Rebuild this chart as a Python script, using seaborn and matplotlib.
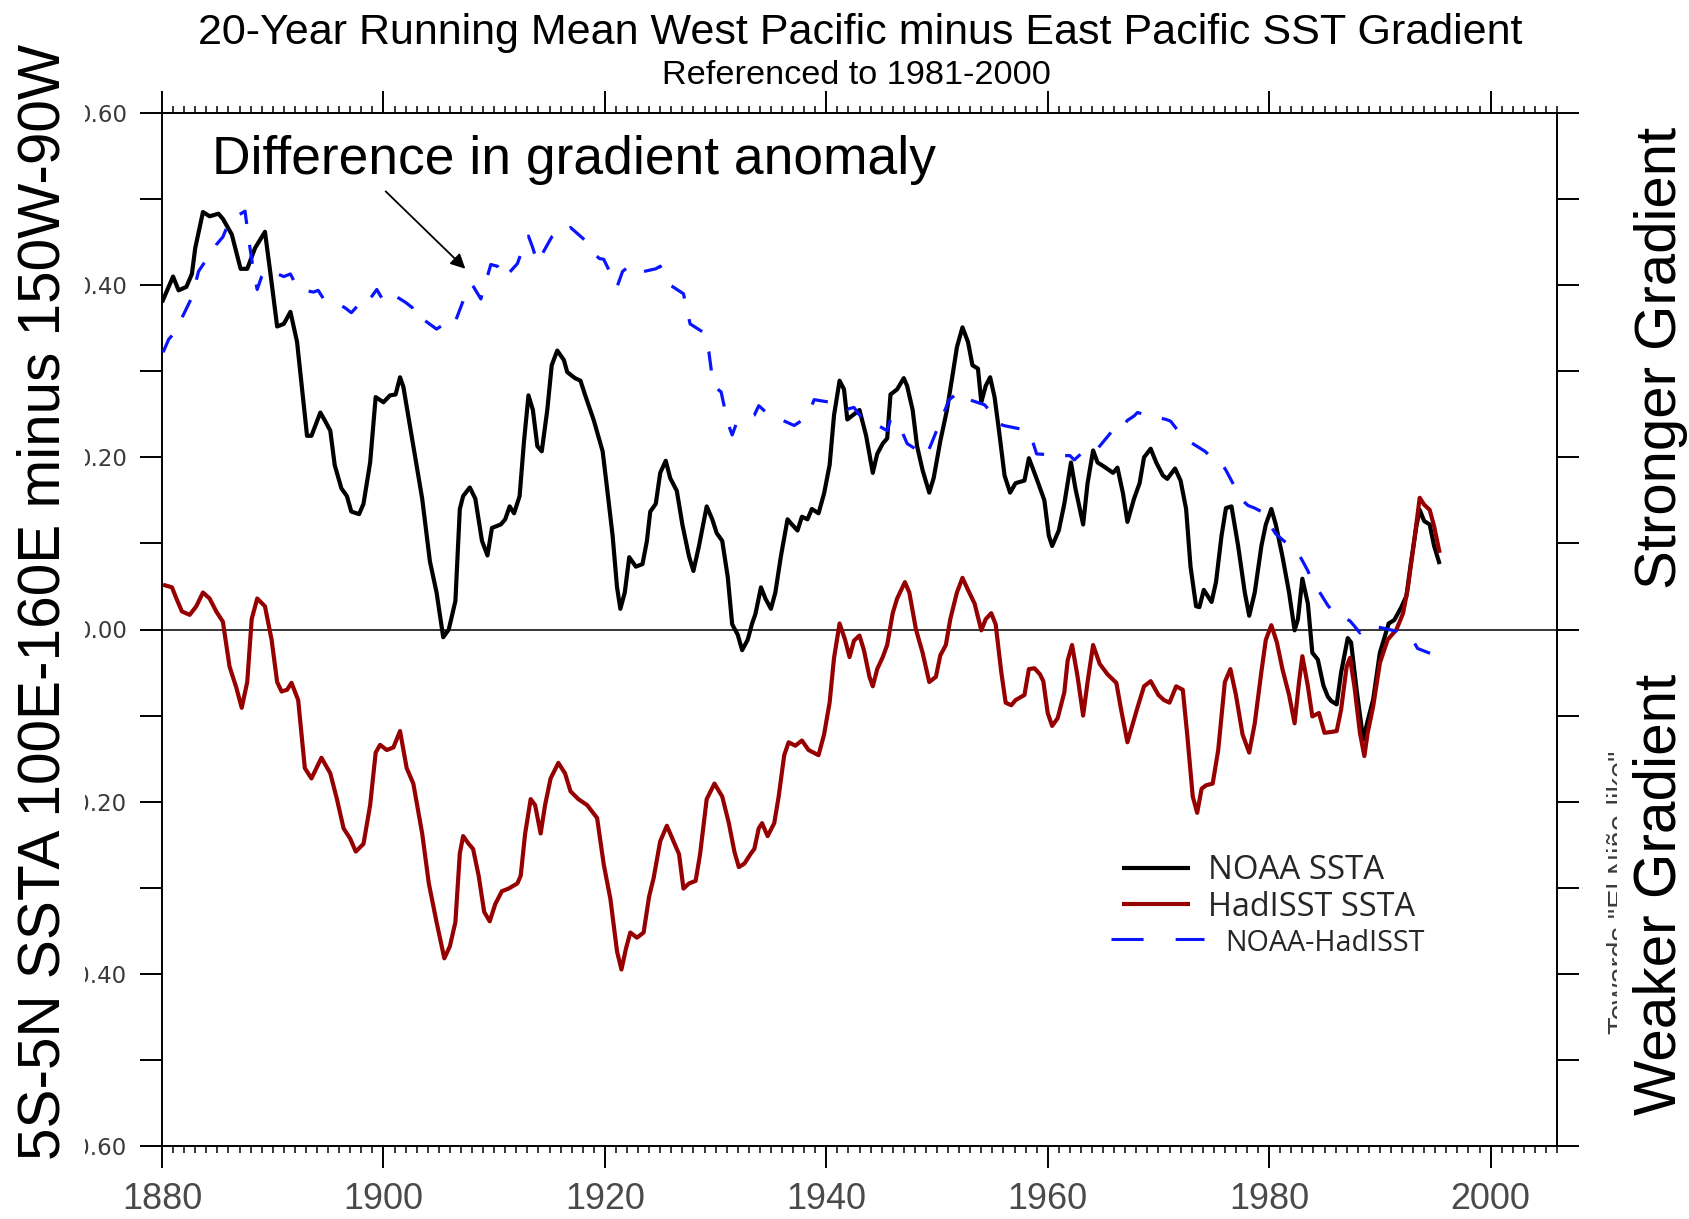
import numpy as np
import matplotlib
matplotlib.use("Agg")
import matplotlib.pyplot as plt
import seaborn as sns
from matplotlib.lines import Line2D
from matplotlib.legend_handler import HandlerLine2D
from matplotlib.ticker import MultipleLocator, FuncFormatter
from matplotlib.transforms import Bbox
from matplotlib import font_manager as fm

# ---------------------------------------------------------------------------
# 20-year running mean of the WP-minus-EP SST gradient (degC, ref. 1981-2000)
# ---------------------------------------------------------------------------
noaa_year = [1880.0, 1881.0, 1881.5, 1882.2, 1882.7, 1883.0, 1883.7, 1884.3, 1885.1, 1885.5,
             1886.3, 1887.1, 1887.7, 1888.4, 1889.3, 1889.8, 1890.4, 1891.0, 1891.6, 1892.2,
             1892.5, 1893.1, 1893.5, 1894.3, 1894.7, 1895.2, 1895.6, 1896.2, 1896.7, 1897.1,
             1897.8, 1898.2, 1898.8, 1899.3, 1900.0, 1900.6, 1901.1, 1901.5, 1901.8, 1902.7,
             1903.5, 1904.2, 1904.8, 1905.4, 1905.9, 1906.5, 1906.9, 1907.2, 1907.8, 1908.3,
             1908.9, 1909.4, 1909.8, 1910.6, 1911.0, 1911.4, 1911.8, 1912.3, 1912.7, 1913.1,
             1913.5, 1913.9, 1914.3, 1914.8, 1915.2, 1915.7, 1916.3, 1916.6, 1917.3, 1917.8,
             1918.2, 1919.0, 1919.8, 1920.2, 1920.7, 1921.1, 1921.4, 1921.8, 1922.2, 1922.8,
             1923.4, 1923.8, 1924.1, 1924.6, 1925.0, 1925.5, 1925.9, 1926.5, 1927.0, 1927.6,
             1928.0, 1928.5, 1929.2, 1929.7, 1930.1, 1930.6, 1931.1, 1931.5, 1932.0, 1932.4,
             1932.9, 1933.3, 1933.6, 1934.1, 1934.5, 1935.0, 1935.4, 1935.9, 1936.5, 1936.9,
             1937.4, 1937.8, 1938.3, 1938.7, 1939.3, 1939.8, 1940.3, 1940.7, 1941.2, 1941.6,
             1941.9, 1942.4, 1943.0, 1943.6, 1944.2, 1944.6, 1945.1, 1945.5, 1945.8, 1946.4,
             1947.0, 1947.3, 1947.8, 1948.2, 1948.7, 1949.3, 1949.7, 1950.3, 1950.9, 1951.4,
             1951.8, 1952.3, 1952.8, 1953.2, 1953.7, 1954.0, 1954.4, 1954.8, 1955.2, 1955.6,
             1956.1, 1956.6, 1957.1, 1957.9, 1958.3, 1958.8, 1959.2, 1959.7, 1960.1, 1960.4,
             1961.0, 1961.5, 1962.1, 1962.5, 1963.2, 1963.6, 1964.1, 1964.5, 1965.0, 1965.9,
             1966.3, 1966.8, 1967.2, 1967.8, 1968.3, 1968.7, 1969.3, 1969.8, 1970.4, 1970.8,
             1971.5, 1972.0, 1972.5, 1972.9, 1973.4, 1973.7, 1974.1, 1974.8, 1975.2, 1975.7,
             1976.1, 1976.6, 1977.2, 1977.8, 1978.2, 1978.7, 1979.3, 1979.7, 1980.2, 1980.6,
             1981.2, 1981.8, 1982.3, 1982.6, 1983.0, 1983.5, 1983.9, 1984.4, 1984.9, 1985.3,
             1985.6, 1986.1, 1986.5, 1987.1, 1987.4, 1987.9, 1988.5, 1988.9, 1989.4, 1990.0,
             1990.4, 1990.8, 1991.3, 1991.9, 1992.4, 1992.8, 1993.3, 1993.6, 1994.0, 1994.5,
             1994.9, 1995.4]
noaa_val = [0.380, 0.410, 0.394, 0.398, 0.413, 0.443, 0.485, 0.480, 0.483, 0.477,
            0.459, 0.419, 0.419, 0.443, 0.462, 0.413, 0.352, 0.355, 0.369, 0.334,
            0.298, 0.225, 0.225, 0.252, 0.243, 0.231, 0.191, 0.164, 0.155, 0.137,
            0.134, 0.146, 0.194, 0.270, 0.264, 0.272, 0.273, 0.293, 0.282, 0.213,
            0.152, 0.079, 0.043, -0.009, 0.000, 0.033, 0.140, 0.155, 0.165, 0.152,
            0.103, 0.086, 0.118, 0.122, 0.128, 0.143, 0.135, 0.155, 0.219, 0.272,
            0.255, 0.213, 0.207, 0.255, 0.307, 0.324, 0.313, 0.299, 0.292, 0.289,
            0.273, 0.243, 0.207, 0.164, 0.109, 0.049, 0.024, 0.043, 0.084, 0.073,
            0.076, 0.103, 0.137, 0.146, 0.182, 0.196, 0.176, 0.161, 0.122, 0.085,
            0.068, 0.097, 0.143, 0.128, 0.112, 0.103, 0.061, 0.006, -0.006, -0.024,
            -0.012, 0.007, 0.018, 0.049, 0.036, 0.024, 0.043, 0.085, 0.128, 0.122,
            0.115, 0.131, 0.128, 0.140, 0.135, 0.158, 0.191, 0.249, 0.289, 0.279,
            0.244, 0.249, 0.255, 0.225, 0.182, 0.204, 0.216, 0.222, 0.273, 0.279,
            0.292, 0.283, 0.255, 0.213, 0.185, 0.159, 0.176, 0.219, 0.255, 0.295,
            0.328, 0.351, 0.334, 0.307, 0.303, 0.264, 0.283, 0.293, 0.270, 0.231,
            0.179, 0.159, 0.170, 0.173, 0.199, 0.182, 0.168, 0.150, 0.109, 0.097,
            0.115, 0.146, 0.194, 0.164, 0.122, 0.170, 0.208, 0.194, 0.190, 0.182,
            0.188, 0.158, 0.125, 0.152, 0.170, 0.200, 0.210, 0.194, 0.179, 0.175,
            0.187, 0.173, 0.140, 0.073, 0.027, 0.026, 0.046, 0.032, 0.055, 0.109,
            0.141, 0.143, 0.097, 0.043, 0.016, 0.043, 0.097, 0.122, 0.140, 0.122,
            0.085, 0.043, -0.001, 0.012, 0.059, 0.030, -0.027, -0.035, -0.065, -0.078,
            -0.083, -0.087, -0.050, -0.010, -0.015, -0.070, -0.128, -0.106, -0.081, -0.027,
            -0.010, 0.007, 0.011, 0.025, 0.039, 0.077, 0.120, 0.139, 0.126, 0.122,
            0.097, 0.076]

had_year = [1880.1, 1880.9, 1881.3, 1881.8, 1882.5, 1883.1, 1883.7, 1884.3, 1884.9, 1885.5,
            1886.1, 1886.7, 1887.2, 1887.7, 1888.1, 1888.6, 1889.3, 1889.9, 1890.4, 1890.8,
            1891.3, 1891.7, 1892.3, 1892.9, 1893.5, 1894.4, 1895.2, 1895.8, 1896.4, 1897.0,
            1897.5, 1898.2, 1898.8, 1899.3, 1899.7, 1900.3, 1900.9, 1901.5, 1902.1, 1902.7,
            1903.5, 1904.1, 1904.8, 1905.5, 1906.0, 1906.5, 1906.9, 1907.2, 1907.7, 1908.1,
            1908.6, 1909.1, 1909.6, 1910.1, 1910.7, 1911.3, 1912.1, 1912.4, 1912.8, 1913.3,
            1913.7, 1914.2, 1914.6, 1915.1, 1915.8, 1916.4, 1916.9, 1917.6, 1918.4, 1919.3,
            1919.9, 1920.5, 1921.1, 1921.5, 1921.9, 1922.3, 1922.9, 1923.5, 1924.0, 1924.4,
            1925.0, 1925.6, 1926.2, 1926.7, 1927.1, 1927.6, 1928.2, 1928.6, 1929.2, 1929.9,
            1930.6, 1931.2, 1931.7, 1932.1, 1932.6, 1933.2, 1933.5, 1933.9, 1934.2, 1934.7,
            1935.3, 1935.7, 1936.2, 1936.6, 1937.2, 1937.8, 1938.4, 1939.3, 1939.8, 1940.3,
            1940.7, 1941.2, 1941.7, 1942.1, 1942.5, 1943.0, 1943.4, 1943.9, 1944.2, 1944.6,
            1945.1, 1945.5, 1946.0, 1946.4, 1947.1, 1947.5, 1948.1, 1948.7, 1949.3, 1949.9,
            1950.3, 1950.8, 1951.2, 1951.8, 1952.3, 1952.8, 1953.4, 1954.0, 1954.4, 1954.9,
            1955.3, 1955.8, 1956.2, 1956.7, 1957.1, 1957.9, 1958.3, 1958.8, 1959.3, 1959.6,
            1960.0, 1960.4, 1960.9, 1961.5, 1961.8, 1962.2, 1962.7, 1963.2, 1963.6, 1964.1,
            1964.7, 1965.4, 1966.2, 1966.6, 1967.2, 1967.7, 1968.1, 1968.7, 1969.3, 1970.0,
            1970.5, 1971.0, 1971.6, 1972.2, 1972.6, 1973.1, 1973.5, 1973.9, 1974.3, 1974.9,
            1975.4, 1976.0, 1976.5, 1977.0, 1977.6, 1978.2, 1978.7, 1979.3, 1979.7, 1980.2,
            1980.7, 1981.2, 1981.8, 1982.3, 1982.7, 1983.0, 1983.5, 1983.9, 1984.5, 1985.0,
            1985.6, 1986.1, 1986.5, 1987.0, 1987.3, 1987.7, 1988.2, 1988.6, 1988.9, 1989.4,
            1990.0, 1990.7, 1991.5, 1992.1, 1992.5, 1993.0, 1993.6, 1994.0, 1994.5, 1994.9,
            1995.4]
had_val = [0.052, 0.049, 0.036, 0.021, 0.017, 0.027, 0.043, 0.036, 0.021, 0.009,
           -0.043, -0.067, -0.091, -0.061, 0.012, 0.036, 0.027, -0.012, -0.061, -0.072,
           -0.070, -0.062, -0.082, -0.161, -0.173, -0.149, -0.167, -0.197, -0.231, -0.243,
           -0.258, -0.249, -0.204, -0.143, -0.134, -0.140, -0.137, -0.118, -0.161, -0.179,
           -0.237, -0.295, -0.340, -0.382, -0.368, -0.340, -0.260, -0.240, -0.249, -0.255,
           -0.286, -0.328, -0.339, -0.319, -0.304, -0.301, -0.295, -0.286, -0.237, -0.197,
           -0.204, -0.237, -0.204, -0.173, -0.155, -0.167, -0.188, -0.197, -0.204, -0.219,
           -0.273, -0.313, -0.374, -0.395, -0.371, -0.352, -0.358, -0.352, -0.310, -0.289,
           -0.246, -0.228, -0.246, -0.261, -0.301, -0.295, -0.292, -0.261, -0.197, -0.179,
           -0.194, -0.225, -0.258, -0.276, -0.272, -0.260, -0.255, -0.231, -0.225, -0.240,
           -0.225, -0.194, -0.146, -0.131, -0.135, -0.129, -0.140, -0.146, -0.122, -0.085,
           -0.033, 0.007, -0.012, -0.032, -0.013, -0.007, -0.024, -0.055, -0.066, -0.046,
           -0.032, -0.018, 0.019, 0.036, 0.055, 0.043, 0.000, -0.027, -0.061, -0.055,
           -0.030, -0.018, 0.012, 0.043, 0.060, 0.046, 0.030, -0.001, 0.012, 0.019,
           0.006, -0.049, -0.085, -0.088, -0.082, -0.076, -0.046, -0.045, -0.052, -0.060,
           -0.097, -0.112, -0.103, -0.073, -0.036, -0.018, -0.055, -0.100, -0.061, -0.018,
           -0.040, -0.052, -0.062, -0.091, -0.131, -0.109, -0.091, -0.066, -0.060, -0.076,
           -0.082, -0.085, -0.066, -0.070, -0.122, -0.194, -0.213, -0.185, -0.181, -0.179,
           -0.140, -0.061, -0.046, -0.076, -0.122, -0.143, -0.109, -0.049, -0.012, 0.005,
           -0.015, -0.046, -0.076, -0.109, -0.061, -0.031, -0.066, -0.101, -0.097, -0.120,
           -0.119, -0.118, -0.093, -0.043, -0.033, -0.066, -0.120, -0.147, -0.120, -0.089,
           -0.039, -0.012, 0.000, 0.019, 0.046, 0.093, 0.153, 0.145, 0.139, 0.120,
           0.089]

diff_year = [1880.1, 1880.6, 1881.2, 1882.7, 1883.3, 1884.9, 1885.5, 1886.1, 1887.5, 1887.8,
             1888.3, 1888.6, 1889.0, 1889.5, 1891.0, 1891.6, 1892.3, 1893.7, 1894.1, 1894.6,
             1895.2, 1896.5, 1897.1, 1897.6, 1898.1, 1899.4, 1899.9, 1900.5, 1902.0, 1902.6,
             1903.0, 1903.3, 1904.8, 1905.4, 1906.0, 1906.5, 1907.5, 1908.0, 1908.8, 1909.7,
             1910.3, 1910.9, 1912.1, 1912.6, 1913.1, 1913.5, 1913.9, 1915.2, 1915.8, 1916.3,
             1916.9, 1918.4, 1919.0, 1919.5, 1919.9, 1921.1, 1921.6, 1922.0, 1922.5, 1924.6,
             1925.0, 1925.8, 1927.1, 1927.7, 1928.8, 1929.4, 1929.8, 1930.5, 1931.1, 1931.5,
             1931.9, 1933.5, 1933.9, 1934.5, 1935.0, 1937.1, 1937.7, 1938.4, 1938.9, 1941.3,
             1941.9, 1942.5, 1943.0, 1944.8, 1945.5, 1945.8, 1946.3, 1946.9, 1947.3, 1949.0,
             1949.4, 1950.0, 1951.1, 1951.7, 1952.2, 1952.9, 1954.3, 1954.9, 1955.5, 1956.0,
             1957.9, 1958.5, 1959.0, 1961.3, 1962.0, 1962.4, 1963.0, 1963.6, 1964.2, 1964.5,
             1966.3, 1966.8, 1967.2, 1967.8, 1968.1, 1970.7, 1971.1, 1971.7, 1972.2, 1972.6,
             1974.2, 1974.8, 1975.4, 1975.8, 1976.1, 1977.5, 1978.1, 1978.7, 1979.3, 1979.9,
             1980.6, 1982.6, 1983.0, 1983.5, 1983.8, 1985.3, 1985.9, 1986.7, 1987.3, 1987.7,
             1988.2, 1988.6, 1989.1, 1991.5, 1991.9, 1992.5, 1993.1, 1993.4, 1994.4, 1995.4]
diff_val = [0.322, 0.337, 0.346, 0.386, 0.416, 0.447, 0.456, 0.475, 0.486, 0.456,
            0.413, 0.395, 0.410, 0.418, 0.410, 0.413, 0.395, 0.392, 0.394, 0.384,
            0.382, 0.374, 0.368, 0.375, 0.372, 0.395, 0.384, 0.392, 0.380, 0.374,
            0.361, 0.363, 0.349, 0.354, 0.362, 0.358, 0.392, 0.401, 0.384, 0.424,
            0.422, 0.408, 0.425, 0.443, 0.457, 0.443, 0.426, 0.456, 0.462, 0.460,
            0.467, 0.450, 0.437, 0.431, 0.430, 0.398, 0.416, 0.420, 0.413, 0.419,
            0.422, 0.401, 0.390, 0.355, 0.346, 0.322, 0.283, 0.276, 0.240, 0.226,
            0.240, 0.249, 0.260, 0.253, 0.249, 0.237, 0.242, 0.250, 0.267, 0.262,
            0.256, 0.258, 0.249, 0.236, 0.231, 0.244, 0.231, 0.228, 0.216, 0.202,
            0.213, 0.232, 0.267, 0.273, 0.276, 0.267, 0.261, 0.252, 0.240, 0.237,
            0.232, 0.224, 0.204, 0.202, 0.202, 0.197, 0.204, 0.210, 0.211, 0.210,
            0.238, 0.236, 0.243, 0.248, 0.252, 0.244, 0.242, 0.232, 0.225, 0.220,
            0.207, 0.200, 0.194, 0.191, 0.185, 0.151, 0.144, 0.141, 0.137, 0.125,
            0.111, 0.089, 0.080, 0.068, 0.059, 0.028, 0.019, 0.014, 0.010, 0.004,
            -0.004, 0.000, 0.005, -0.002, -0.006, -0.010, -0.015, -0.022, -0.027, -0.031]

x_major = [1880, 1900, 1920, 1940, 1960, 1980, 2000]
series_labels = ["NOAA SSTA", "HadISST SSTA", "NOAA-HadISST"]
title_text = "20-Year Running Mean West Pacific minus East Pacific SST Gradient"
subtitle_text = "Referenced to 1981-2000"
ylabel_text = "5S-5N SSTA 100E-160E minus 150W-90W"
note_text = "Difference in gradient anomaly"
arrow_tail = (1900.2, 0.509)
arrow_head = (1907.4, 0.419)

# ---------------------------------------------------------------------------
sns.set_theme(style="white")
plt.rcParams["font.family"] = ["Liberation Sans", "DejaVu Sans"]

installed = {f.name for f in fm.fontManager.ttflist}
NARROW = "Liberation Sans Narrow" if "Liberation Sans Narrow" in installed else "Liberation Sans"
HUMAN = "Open Sans" if "Open Sans" in installed else "DejaVu Sans"

W, H, DPI = 1689, 1219, 100
fig = plt.figure(figsize=(W / DPI, H / DPI), dpi=DPI, facecolor="white")
ax = fig.add_axes([162 / W, 1 - 1146 / H, (1557 - 162) / W, (1146 - 113) / H])

RED = "#960000"
BLUE = "#0a14ff"

ax.axhline(0.0, color="black", lw=1.1, zorder=1.5)
sns.lineplot(x=noaa_year, y=noaa_val, ax=ax, color="black", linewidth=3.0,
             label=series_labels[0], estimator=None, sort=False, errorbar=None, zorder=3)
sns.lineplot(x=had_year, y=had_val, ax=ax, color=RED, linewidth=3.0,
             label=series_labels[1], estimator=None, sort=False, errorbar=None, zorder=4)
sns.lineplot(x=diff_year, y=diff_val, ax=ax, color=BLUE, linewidth=2.3,
             linestyle=(0, (6.0, 6.6)), label=series_labels[2],
             estimator=None, sort=False, errorbar=None, zorder=5)
for ln in ax.get_lines():
    ln.set_solid_joinstyle("round")
    ln.set_solid_capstyle("butt")

ax.set_xlim(1880, 2006)
ax.set_ylim(-0.6, 0.6)
ax.set_xlabel("")
ax.set_ylabel("")
ax.set_xticks(x_major)
ax.xaxis.set_minor_locator(MultipleLocator(1))
ax.yaxis.set_major_locator(MultipleLocator(0.1))
ax.yaxis.set_major_formatter(FuncFormatter(
    lambda v, _: f"{v:.2f}" if int(round(v * 10)) % 2 == 0 else ""))

for sp in ax.spines.values():
    sp.set_visible(True)
    sp.set_color("black")
    sp.set_linewidth(1.4)

ax.tick_params(axis="x", which="major", direction="out", length=15.6, width=1.4,
               bottom=True, top=True, labelbottom=True, labeltop=False,
               color="black", labelcolor="#4a4a4a", pad=10)
ax.tick_params(axis="x", which="minor", direction="out", length=4.8, width=1.1,
               bottom=True, top=True, color="black")
ax.tick_params(axis="y", which="major", direction="out", length=15.6, width=1.4,
               left=True, right=True, labelleft=True, labelright=False,
               color="black", labelcolor="#3a3a3a", pad=9.4, labelsize=16.5)
for lbl in ax.get_xticklabels():
    lbl.set_fontfamily(NARROW)
for lbl in ax.get_yticklabels():
    lbl.set_fontfamily("DejaVu Sans")

# arrow pointing at the difference curve
ax.annotate("", xy=arrow_head, xytext=arrow_tail,
            arrowprops=dict(arrowstyle="-|>", color="black", lw=1.3,
                            mutation_scale=22, shrinkA=0, shrinkB=0), zorder=6)


class WideLineHandler(HandlerLine2D):
    """Legend key that reaches a little past the standard handle box."""

    def __init__(self, left=0.0, right=0.0, **kw):
        super().__init__(**kw)
        self.left, self.right = left, right

    def create_artists(self, legend, orig_handle, xdescent, ydescent, width,
                       height, fontsize, trans):
        return super().create_artists(legend, orig_handle, xdescent + self.left,
                                      ydescent, width + self.left + self.right,
                                      height, fontsize, trans)


handles, _ = ax.get_legend_handles_labels()
diff_key = Line2D([], [], color=BLUE, lw=2.2, linestyle=(0, (10.5, 10.5)))
leg = ax.legend(handles=[handles[0], handles[1], diff_key], labels=series_labels,
                loc="center left", bbox_to_anchor=(1122 / W, 1 - 906 / H),
                bbox_transform=fig.transFigure, frameon=False, borderpad=0,
                borderaxespad=0, handlelength=2.07, handletextpad=0.55,
                labelspacing=0.12, prop={"family": HUMAN, "size": 23.7},
                handler_map={diff_key: WideLineHandler(left=8, right=10)})
leg_texts = leg.get_texts()
leg_texts[2].set_fontsize(20.5)

# figure texts
title = fig.text(860 / W, 1 - 44 / H, title_text, ha="center", va="baseline",
                 fontsize=30, family=[NARROW, "DejaVu Sans"], color="black")
subtitle = fig.text(856 / W, 1 - 84 / H, subtitle_text, ha="center", va="baseline",
                    fontsize=22, family=[NARROW, "DejaVu Sans"], color="black")
ylab = fig.text(60 / W, 1 - 602 / H, ylabel_text, rotation=90, rotation_mode="anchor",
                ha="center", va="baseline", fontsize=43, color="black",
                bbox=dict(facecolor="white", edgecolor="none", boxstyle="square,pad=0.23"))
strong = fig.text(1676 / W, 1 - 358 / H, "Stronger Gradient", rotation=90,
                  rotation_mode="anchor", ha="center", va="baseline", fontsize=42,
                  color="black")
weak = fig.text(1675 / W, 1 - 894 / H, "Weaker Gradient", rotation=90,
                rotation_mode="anchor", ha="center", va="baseline", fontsize=42,
                color="black")
toward = fig.text(1629 / W, 1 - 892 / H, 'Towards "El Niño-like"', rotation=90,
                  rotation_mode="anchor", ha="center", va="baseline", fontsize=20.6,
                  color="#3c3c3c")
toward.set_clip_box(Bbox.from_extents(0, 0, 1617, H))
toward.set_clip_on(True)
note = fig.text(212 / W, 1 - 174 / H, note_text, ha="left", va="baseline",
                fontsize=38, color="black")

# scale text so each string spans its intended length in pixels
fig.canvas.draw()
rend = fig.canvas.get_renderer()


def fit_length(txt, target_px):
    ext = txt.get_window_extent(rend)
    cur = ext.height if txt.get_rotation() else ext.width
    txt.set_fontsize(txt.get_fontsize() * target_px / cur)


fit_length(title, 1323)
fit_length(subtitle, 388)
fit_length(ylab, 1118)
fit_length(strong, 463)
fit_length(weak, 442)
fit_length(toward, 283)
fit_length(note, 722)
fit_length(leg_texts[0], 176)
fit_length(leg_texts[1], 207)
fit_length(leg_texts[2], 200)
leg_texts[2].set_x(17)

xl = ax.get_xticklabels()[0]
cur_w = xl.get_window_extent(rend).width
ax.tick_params(axis="x", which="major", labelsize=xl.get_fontsize() * 80 / cur_w)

fig.savefig("out.png", dpi=DPI, facecolor="white")
